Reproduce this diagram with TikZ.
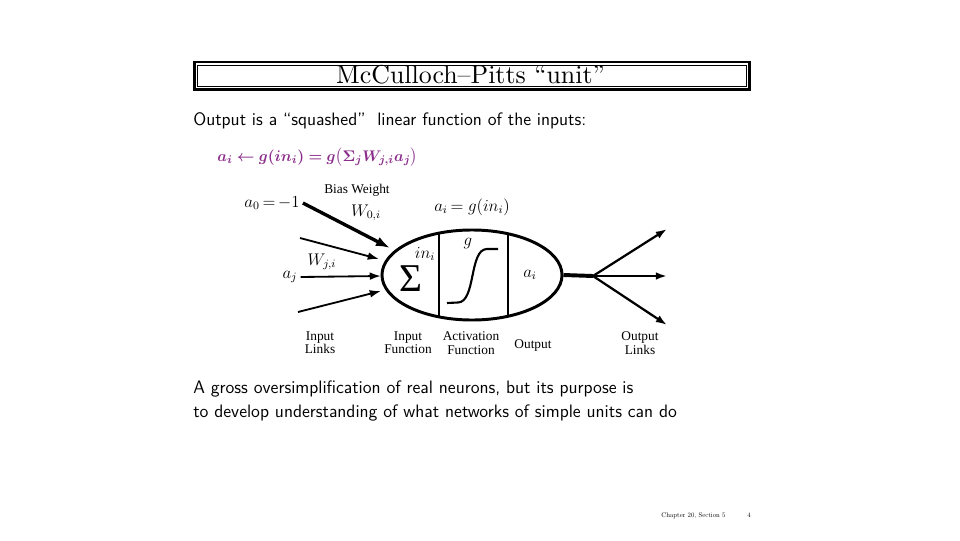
\documentclass[tikz,border=0pt]{standalone}
\usepackage{amsmath}
\usepackage{bm}
\usepackage{fontspec}
\usetikzlibrary{arrows.meta, positioning, shapes.geometric}
\newfontfamily\figfont{Liberation Serif}
\newfontfamily\titlefont{lmroman10-regular.otf}
\definecolor{mathpurple}{HTML}{8B2E8B}
\newcommand{\unitrule}{\textcolor{mathpurple}{$\bm{a_i \leftarrow g(in_i) = g\big(\Sigma_j W_{j,i} a_j\big)}$}}
\tikzstyle{inarr}=[-{Latex[length=8pt,width=5.5pt]},line width=1.3pt]
\tikzstyle{biasarr}=[-{Latex[length=10pt,width=7pt]},line width=2.4pt]
\tikzstyle{outarr}=[-{Latex[length=8pt,width=5.5pt]},line width=1.6pt]
\tikzstyle{figlabel}=[font=\figfont\fontsize{9.5}{9.5}\selectfont,align=center,inner sep=0pt]
\tikzstyle{mathlabel}=[font=\fontsize{12}{12}\selectfont,inner sep=0pt]
\tikzstyle{slidetext}=[font=\sffamily\fontsize{12.8}{17}\selectfont,anchor=base west,inner sep=0pt]
\tikzstyle{ruletext}=[font=\fontsize{11}{12}\selectfont,anchor=base west,inner sep=0pt]

\begin{document}
\begin{tikzpicture}[x=0.025cm,y=-0.025cm]
  \useasboundingbox (0,0) rectangle (960,540);
  % title bar
  \draw[line width=2.1pt] (194.5,62) rectangle (749.5,89.5);
  \draw[line width=0.8pt] (197.5,65.5) rectangle (746.5,86.5);
  \node[font=\titlefont\fontsize{18.4}{18}\selectfont,anchor=base,inner sep=0pt] (title) at (470.5,83.5) {McCulloch–Pitts “unit”};
  \node[slidetext] (intro) at (193,125) {Output is a ``squashed''\ \ linear function of the inputs:};
  \node[ruletext] (formula) at (217,161) {\unitrule};

  % the unit
  \node[draw,ellipse,line width=2.1pt,minimum width=4.5cm,minimum height=2.25cm] (unit) at (472,275) {};
  \draw[line width=1.1pt] (439,233.1) -- (439,316.9);
  \draw[line width=1.1pt] (508,233.8) -- (508,316.2);
  \node[font=\figfont\fontsize{28}{28}\selectfont,inner sep=0pt] (sigma) at (411,279) {Σ};
  \node[mathlabel] (ini) at (425,254) {$in_i$};
  \node[mathlabel] (gfun) at (468,244) {$g$};
  \node[mathlabel] (ai) at (530,275) {$a_i$};
  \draw[line width=1.5pt] (447,303) -- (458,302.5) .. controls (476,302) and (469,249) .. (487,249) -- (498,249);

  % inputs
  \node[mathlabel] (a0) at (272,203) {$a_0\,{=}\,{-1}$};
  \node[mathlabel] (aj) at (290,277) {$a_j$};
  \node[figlabel] (bias) at (357,190) {Bias Weight};
  \node[mathlabel] (w0) at (366,213) {$W_{0,i}$};
  \node[mathlabel] (wj) at (322,262) {$W_{j,i}$};
  \node[mathlabel] (act) at (472,207) {$a_i\,{=}\;g(in_i)$};
  \coordinate (tip0) at (390,248);
  \coordinate (src1) at (300,238);
  \coordinate (tip1) at (379,259);
  \coordinate (tipj) at (381,276);
  \coordinate (src2) at (298,312);
  \coordinate (tip2) at (381,291);
  \draw[biasarr] (a0.east) ++(3,0) -- (tip0);
  \draw[inarr] (src1) -- (tip1);
  \draw[inarr] (aj.east) ++(3,0) -- (tipj);
  \draw[inarr] (src2) -- (tip2);

  % outputs
  \coordinate (fork) at (593,276);
  \coordinate (out1) at (667,229);
  \coordinate (out2) at (667,276);
  \coordinate (out3) at (667,325);
  \draw[line width=2.8pt] (unit.east) -- (fork);
  \foreach \o in {out1,out2,out3}
    \draw[outarr] (fork) -- (\o);

  % captions
  \node[figlabel] (inlinks) at (320,343) {Input\\Links};
  \node[figlabel] (infun) at (408,343) {Input\\Function};
  \node[figlabel] (actfun) at (471,343) {Activation\\Function};
  \node[figlabel] (outlab) at (533,345) {Output};
  \node[figlabel] (outlinks) at (640,343) {Output\\Links};

  \node[slidetext] (remark1) at (193,393) {A gross oversimplification of real neurons, but its purpose is};
  \node[slidetext] (remark2) at (193,417) {to develop understanding of what networks of simple units can do};
  \node[font=\titlefont\fontsize{4.8}{5}\selectfont,anchor=base,inner sep=0pt] (footer) at (693.5,517) {Chapter 20, Section 5};
  \node[font=\titlefont\fontsize{4.8}{5}\selectfont,anchor=base,inner sep=0pt] (page) at (749,517) {4};
\end{tikzpicture}
\end{document}
